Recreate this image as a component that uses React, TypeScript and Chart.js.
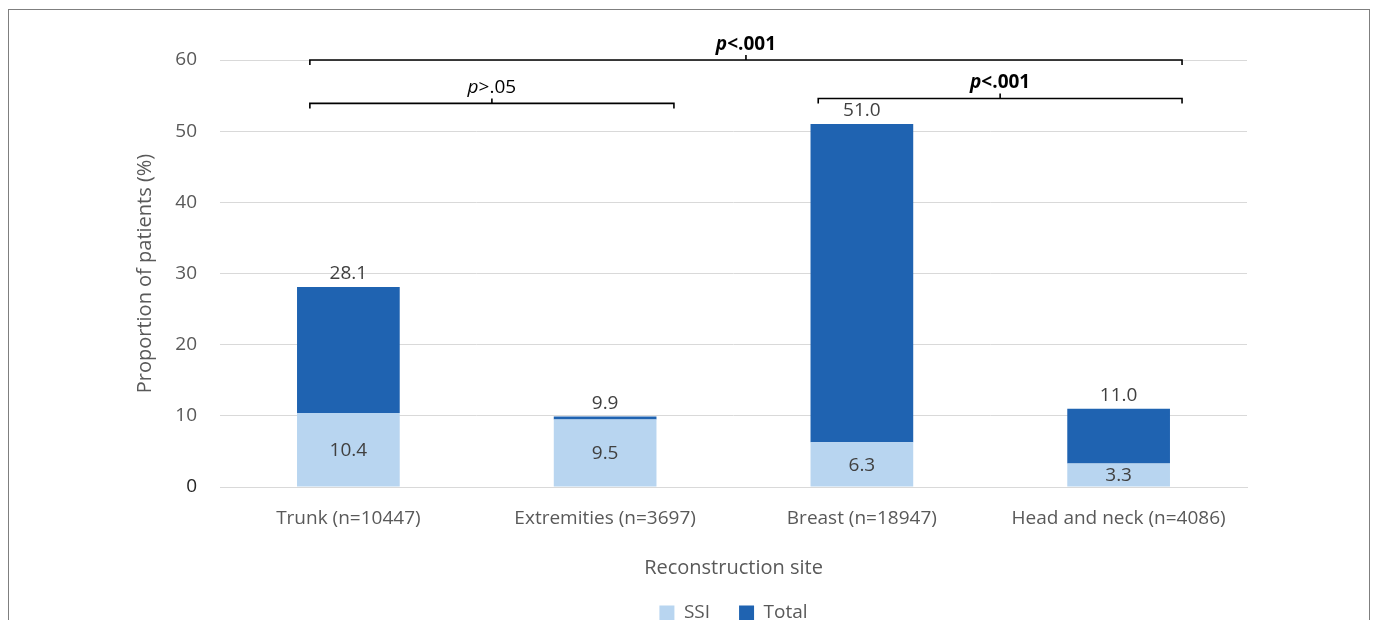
import React, { useEffect, useRef } from "react";
import { Chart, registerables } from "chart.js";

Chart.register(...registerables);

const categories = [
  "Trunk (n=10447)",
  "Extremities (n=3697)",
  "Breast (n=18947)",
  "Head and neck (n=4086)",
];
const ssiValues = [10.4, 9.5, 6.3, 3.3];
const totalValues = [28.1, 9.9, 51.0, 11.0];
const seriesNames = ["SSI", "Total"];
const yTickValues = [0, 10, 20, 30, 40, 50, 60];

// significance brackets: ends in category-index units, level in data units
const comparisons = [
  { text: ">.05", bold: false, from: -0.15, to: 1.268, level: 53.9 },
  { text: "<.001", bold: true, from: 1.83, to: 3.247, level: 54.6 },
  { text: "<.001", bold: true, from: -0.15, to: 3.247, level: 60 },
];

const FONT = '"Open Sans", sans-serif';
const LIGHT = "#b8d5f0";
const DARK = "#1f63b1";

const dataLabelPlugin = {
  id: "dataLabels",
  afterDatasetsDraw(chart: any) {
    const ctx = chart.ctx;
    ctx.save();
    ctx.fillStyle = "#404040";
    ctx.font = `19px ${FONT}`;
    ctx.textAlign = "center";
    const m0 = chart.getDatasetMeta(0);
    m0.data.forEach((el: any, i: number) => {
      ctx.textBaseline = "middle";
      ctx.fillText(ssiValues[i].toFixed(1), el.x, (el.y + el.base) / 2 + 1);
    });
    const m1 = chart.getDatasetMeta(1);
    m1.data.forEach((el: any, i: number) => {
      ctx.textBaseline = "alphabetic";
      ctx.fillText(totalValues[i].toFixed(1), el.x, el.y - 8);
    });
    ctx.restore();
  },
};

const bracketPlugin = {
  id: "brackets",
  afterDraw(chart: any) {
    const { ctx } = chart;
    const xs = chart.scales.x;
    const ys = chart.scales.y;
    const p0 = xs.getPixelForValue(0);
    const step = xs.getPixelForValue(1) - p0;
    ctx.save();
    ctx.strokeStyle = "#000";
    ctx.fillStyle = "#000";
    ctx.lineWidth = 1.6;
    comparisons.forEach((c) => {
      const x0 = p0 + c.from * step;
      const x1 = p0 + c.to * step;
      const xc = (x0 + x1) / 2;
      const yy = ys.getPixelForValue(c.level);
      ctx.beginPath();
      ctx.moveTo(x0, yy + 5);
      ctx.lineTo(x0, yy);
      ctx.lineTo(x1, yy);
      ctx.lineTo(x1, yy + 5);
      ctx.moveTo(xc, yy);
      ctx.lineTo(xc, yy - 5);
      ctx.stroke();
      const w = c.bold ? "bold " : "";
      const fP = `${w}italic 19px ${FONT}`;
      const fR = `${w}19px ${FONT}`;
      ctx.font = fP;
      const wp = ctx.measureText("p").width;
      ctx.font = fR;
      const wr = ctx.measureText(c.text).width;
      const start = xc - (wp + wr) / 2;
      ctx.textBaseline = "alphabetic";
      ctx.textAlign = "left";
      const ty = yy - 10;
      ctx.font = fP;
      ctx.fillText("p", start, ty);
      ctx.font = fR;
      ctx.fillText(c.text, start + wp, ty);
    });
    ctx.restore();
  },
};

export default function App() {
  const ref = useRef<HTMLCanvasElement | null>(null);
  useEffect(() => {
    if (!ref.current) return;
    const chart = new Chart(ref.current, {
      type: "bar",
      data: {
        labels: categories,
        datasets: [
          {
            label: seriesNames[0],
            data: ssiValues,
            backgroundColor: LIGHT,
            categoryPercentage: 0.8,
            barPercentage: 0.5,
          },
          {
            label: seriesNames[1],
            data: totalValues.map((t, i) => +(t - ssiValues[i]).toFixed(1)),
            backgroundColor: DARK,
            categoryPercentage: 0.8,
            barPercentage: 0.5,
          },
        ],
      },
      options: {
        responsive: false,
        animation: false,
        devicePixelRatio: 1,
        layout: { padding: { left: 0, right: 122, top: 50, bottom: 17.5 } },
        plugins: {
          tooltip: { enabled: false },
          legend: {
            position: "bottom",
            fullSize: false,
            labels: {
              boxWidth: 15,
              boxHeight: 15,
              padding: 10,
              color: "#595959",
              font: { family: FONT, size: 19 },
              generateLabels: (ch: any) => {
                const items = Chart.defaults.plugins.legend.labels.generateLabels(ch);
                return items.map((it: any, i: number) => ({
                  ...it,
                  text: i < items.length - 1 ? it.text + "\u2003" : it.text,
                  lineWidth: 0,
                }));
              },
            },
          },
        },
        scales: {
          x: {
            stacked: true,
            grid: { display: false, drawTicks: false },
            border: { display: true, color: "#d9d9d9", width: 1 },
            ticks: {
              color: "#595959",
              font: { family: FONT, size: 19 },
              padding: 20,
              maxRotation: 0,
            },
            title: {
              display: true,
              text: "Reconstruction site",
              color: "#595959",
              font: { family: FONT, size: 20 },
              padding: { top: 0, bottom: 13.5 },
            },
            afterFit: (s: any) => {
              s.height = 106.5;
            },
          },
          y: {
            stacked: true,
            min: 0,
            max: 60,
            afterBuildTicks: (s: any) => {
              s.ticks = yTickValues.map((v) => ({ value: v }));
            },
            grid: { color: "#d9d9d9", lineWidth: 1, drawTicks: false },
            border: { display: false },
            ticks: {
              color: (c: any) => (c.tick && c.tick.value === 0 ? "#262626" : "#595959"),
              font: { family: FONT, size: 19 },
              padding: 23,
            },
            title: {
              display: true,
              text: "Proportion of patients (%)",
              color: "#595959",
              font: { family: FONT, size: 20 },
              padding: { top: 124, bottom: 0 },
            },
            afterFit: (s: any) => {
              s.width = 211;
            },
          },
        },
      },
      plugins: [dataLabelPlugin, bracketPlugin],
    });
    return () => chart.destroy();
  }, []);

  return (
    <div
      style={{
        position: "fixed",
        left: 8,
        top: 9,
        width: 1360,
        height: 620,
        borderTop: "1px solid #7f7f7f",
        borderLeft: "1px solid #7f7f7f",
        borderRight: "1px solid #7f7f7f",
        overflow: "hidden",
        background: "#fff",
      }}
    >
      <canvas ref={ref} width={1360} height={640} style={{ display: "block" }} />
    </div>
  );
}
